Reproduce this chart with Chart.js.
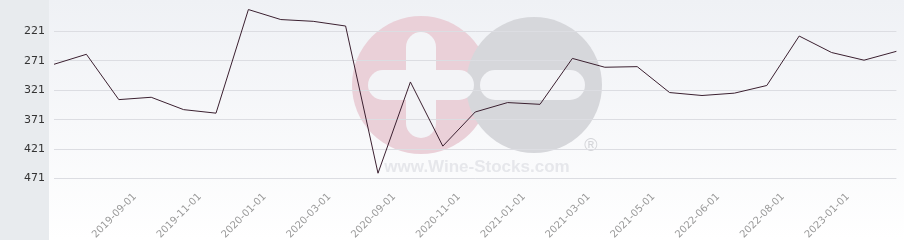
<!DOCTYPE html>
<html><head><meta charset="utf-8">
<script src="https://cdn.jsdelivr.net/npm/chart.js@4.4.1/dist/chart.umd.min.js"></script>
<style>html,body{margin:0;padding:0;background:#fff;overflow:hidden}#wrap{width:904px;height:240px;position:relative}</style>
</head><body><div id="wrap"><canvas id="c" width="904" height="240"></canvas></div>
<script>
// Data (y axis is inverted: smaller values at top)
const values = [277, 260, 337, 333, 354, 360, 184, 201, 204, 212, 462, 307, 416, 358, 342, 345, 267, 282, 281, 325, 330, 326, 313, 229, 257, 270, 255];
const xTickLabels = ['2019-09-01','2019-11-01','2020-01-01','2020-03-01','2020-09-01','2020-11-01','2021-01-01','2021-03-01','2021-05-01','2022-06-01','2022-08-01','2023-01-01'];
const xTickPositions = [2.5, 4.5, 6.5, 8.5, 10.5, 12.5, 14.5, 16.5, 18.5, 20.5, 22.5, 24.5];
const yTickValues = [221, 271, 321, 371, 421, 471];

const points = values.map((v, i) => ({x: i, y: v}));

const bgPlugin = {
  id: 'bg',
  beforeDraw(chart) {
    const ctx = chart.ctx, W = chart.width, H = chart.height;
    ctx.save();
    ctx.fillStyle = '#e8ebee';
    ctx.fillRect(0, 0, 49, H);
    const g = ctx.createLinearGradient(0, 0, 0, H);
    g.addColorStop(0, '#eff1f5');
    g.addColorStop(1, '#ffffff');
    ctx.fillStyle = g;
    ctx.fillRect(49, 0, W - 49, H);
    // watermark
    ctx.fillStyle = '#ead0d8';
    ctx.beginPath(); ctx.arc(421, 85, 69, 0, Math.PI * 2); ctx.fill();
    ctx.fillStyle = '#d6d7db';
    ctx.beginPath(); ctx.arc(534, 85, 68, 0, Math.PI * 2); ctx.fill();
    ctx.fillStyle = '#f3f4f7';
    const rr = (x, y, w, h, r) => { ctx.beginPath(); ctx.roundRect(x, y, w, h, r); ctx.fill(); };
    rr(406, 32, 30, 106, 15);
    rr(368, 70, 106, 30, 15);
    rr(480, 70, 105, 30, 15);
    ctx.fillStyle = '#e6e7eb';
    ctx.font = 'bold 17px "Liberation Sans", Arial, sans-serif';
    ctx.textAlign = 'center'; ctx.textBaseline = 'alphabetic';
    ctx.fillText('www.Wine-Stocks.com', 477, 172);
    ctx.font = '18px "Liberation Sans", Arial, sans-serif';
    ctx.fillStyle = '#d4d5d9';
    ctx.textBaseline = 'middle';
    ctx.fillText('®', 591, 146);
    ctx.restore();
  }
};

const noPad = s => { s.paddingTop = 0; s.paddingBottom = 0; s.paddingLeft = 0; s.paddingRight = 0; };

new Chart(document.getElementById('c'), {
  type: 'line',
  data: {
    datasets: [{
      data: points,
      borderColor: '#3b2030',
      borderWidth: 1,
      pointRadius: 0,
      tension: 0,
      fill: false,
      clip: false
    }]
  },
  options: {
    responsive: false,
    animation: false,
    devicePixelRatio: 1,
    layout: {padding: {top: 0, right: 7.6, left: 0, bottom: 0}},
    plugins: {legend: {display: false}, tooltip: {enabled: false}},
    scales: {
      x: {
        type: 'linear',
        min: 0,
        max: values.length - 1,
        grid: {display: false, drawTicks: false},
        border: {display: false},
        afterBuildTicks: s => { s.ticks = xTickPositions.map(v => ({value: v})); },
        afterFit: s => { s.height = 55; noPad(s); },
        ticks: {
          autoSkip: false,
          maxRotation: 45,
          minRotation: 45,
          padding: 6,
          color: '#9a9a9a',
          font: {family: '"DejaVu Sans", sans-serif', size: 10},
          callback: (v, i) => xTickLabels[i]
        }
      },
      y: {
        type: 'linear',
        reverse: true,
        min: 167.8,
        max: 482,
        grid: {color: '#dcdde2', lineWidth: 1, drawTicks: false},
        border: {display: false},
        afterBuildTicks: s => { s.ticks = yTickValues.map(v => ({value: v})); },
        afterFit: s => { s.width = 54; noPad(s); },
        ticks: {
          padding: 9,
          color: '#333333',
          font: {family: '"DejaVu Sans", sans-serif', size: 11},
          callback: v => String(v)
        }
      }
    }
  },
  plugins: [bgPlugin]
});
</script>
</body></html>
